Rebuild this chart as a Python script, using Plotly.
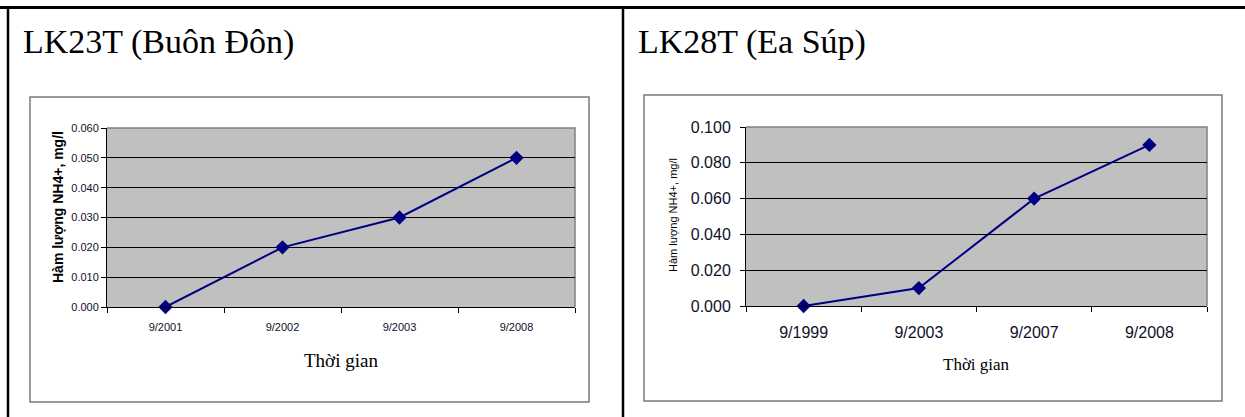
import plotly.graph_objects as go

# NH4+ concentration (mg/l) in two monitoring wells
lk23_dates = ["9/2001", "9/2002", "9/2003", "9/2008"]
lk23_nh4 = [0.000, 0.020, 0.030, 0.050]

lk28_dates = ["9/1999", "9/2003", "9/2007", "9/2008"]
lk28_nh4 = [0.000, 0.010, 0.060, 0.090]

W, H = 1245, 417


def px(x):
    return x / W


def py(y):
    return 1 - y / H


NAVY = "#000080"
TXT = "#10102a"

fig = go.Figure()

fig.add_trace(go.Scatter(
    x=lk23_dates, y=lk23_nh4, mode="lines+markers", xaxis="x", yaxis="y",
    line=dict(color=NAVY, width=2),
    marker=dict(symbol="diamond", size=11, color=NAVY),
    showlegend=False, hoverinfo="skip", cliponaxis=False))

fig.add_trace(go.Scatter(
    x=lk28_dates, y=lk28_nh4, mode="lines+markers", xaxis="x2", yaxis="y2",
    line=dict(color=NAVY, width=2),
    marker=dict(symbol="diamond", size=11, color=NAVY),
    showlegend=False, hoverinfo="skip", cliponaxis=False))

# plot areas (left, right, top, bottom) in pixels
L1 = (107, 575, 128, 307)
L2 = (746, 1207, 127, 306)

common_x = dict(type="category", tickson="boundaries", ticks="outside", ticklen=5,
                tickcolor="black", showline=True, linecolor="black", linewidth=1,
                showgrid=False, zeroline=False, fixedrange=True, range=[-0.5, 3.5],
                automargin=False)
common_y = dict(ticks="outside", ticklen=5, tickcolor="black", showline=True,
                linecolor="black", linewidth=1, showgrid=True, gridcolor="black",
                gridwidth=1, zeroline=False, tickformat=".3f", fixedrange=True,
                automargin=False)

fig.update_layout(
    width=W, height=H, margin=dict(l=0, r=0, t=0, b=0, autoexpand=False),
    paper_bgcolor="white", plot_bgcolor="#c0c0c0",
    xaxis=dict(common_x, domain=[px(L1[0]), px(L1[1])], anchor="y",
               tickfont=dict(family="Arial", size=11, color=TXT),
               ticklabelstandoff=10),
    yaxis=dict(common_y, domain=[py(L1[3]), py(L1[2])], anchor="x",
               range=[0, 0.06], dtick=0.01,
               tickfont=dict(family="Arial", size=11, color=TXT)),
    xaxis2=dict(common_x, domain=[px(L2[0]), px(L2[1])], anchor="y2",
                tickfont=dict(family="Arial", size=16, color=TXT),
                ticklabelstandoff=12),
    yaxis2=dict(common_y, domain=[py(L2[3]), py(L2[2])], anchor="x2",
                range=[0, 0.1], dtick=0.02,
                tickfont=dict(family="Arial", size=16, color=TXT),
                ticklabelstandoff=6),
)

shapes = []
# table frame
shapes.append(dict(type="line", xref="paper", yref="paper", x0=0, x1=1,
                   y0=py(7.5), y1=py(7.5), line=dict(color="black", width=3)))
shapes.append(dict(type="line", xref="paper", yref="paper", x0=px(8), x1=px(8),
                   y0=0, y1=py(7), line=dict(color="black", width=2.5)))
shapes.append(dict(type="line", xref="paper", yref="paper", x0=px(623), x1=px(623),
                   y0=0, y1=py(7), line=dict(color="black", width=2.5)))
# chart boxes
for x0, x1, y0, y1 in [(30, 589, 97, 402), (644, 1222, 95, 401)]:
    shapes.append(dict(type="rect", xref="paper", yref="paper",
                       x0=px(x0), x1=px(x1), y0=py(y1), y1=py(y0),
                       line=dict(color="#7a7a7a", width=1.5)))
# gray top/right edges of the plot areas
for x0, x1, y0, y1 in [L1, L2]:
    shapes.append(dict(type="path", xref="paper", yref="paper",
                       path=f"M {px(x0)} {py(y0)} L {px(x1)} {py(y0)} L {px(x1)} {py(y1)}",
                       line=dict(color="#808080", width=1.5), layer="below"))
fig.update_layout(shapes=shapes)

ann = []
ann.append(dict(text="LK23T (Buôn Đôn)", x=px(21), y=py(42), xanchor="left",
                yanchor="middle", font=dict(family="Liberation Serif", size=34, color="black")))
ann.append(dict(text="LK28T (Ea Súp)", x=px(636), y=py(42), xanchor="left",
                yanchor="middle", font=dict(family="Liberation Serif", size=34, color="black")))
ann.append(dict(text="Thời gian", x=px(341), y=py(360), xanchor="center",
                yanchor="middle", font=dict(family="Liberation Serif", size=19, color="black")))
ann.append(dict(text="Thời gian", x=px(976), y=py(364), xanchor="center",
                yanchor="middle", font=dict(family="Liberation Serif", size=17, color="black")))
ann.append(dict(text="<b>Hàm lượng NH4+, mg/l</b>", x=px(58), y=py(207), textangle=-90,
                xanchor="center", yanchor="middle",
                font=dict(family="Arial", size=14, color="black")))
ann.append(dict(text="Hàm lượng NH4+, mg/l", x=px(673), y=py(215), textangle=-90,
                xanchor="center", yanchor="middle",
                font=dict(family="Arial", size=11, color="black")))
for a in ann:
    a.update(xref="paper", yref="paper", showarrow=False)
fig.update_layout(annotations=ann)

fig.write_html("out.html", post_script="document.body.style.margin='0';")
